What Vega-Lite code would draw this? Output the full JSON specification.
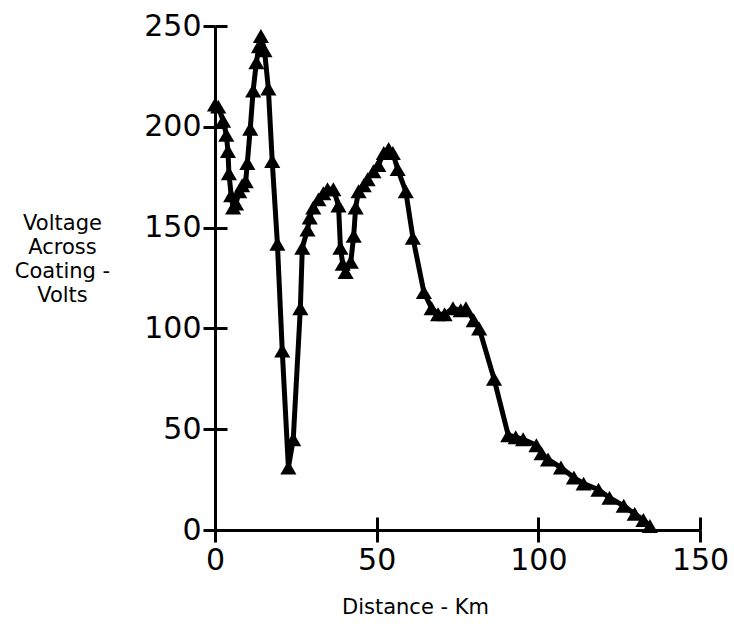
{
  "$schema": "https://vega.github.io/schema/vega-lite/v6.json",
  "width": 485,
  "height": 504,
  "autosize": {"type": "none"},
  "padding": {"left": 215, "top": 26, "right": 34, "bottom": 101},
  "background": "white",
  "config": {
    "view": {"stroke": null},
    "axis": {
      "grid": false,
      "labelFont": "DejaVu Sans",
      "titleFont": "DejaVu Sans",
      "labelColor": "black",
      "titleColor": "black",
      "domainColor": "black",
      "tickColor": "black",
      "domainWidth": 3,
      "tickWidth": 3,
      "labelFontSize": 30,
      "titleFontSize": 21,
      "titleFontWeight": "normal",
      "labelOverlap": false,
      "labelFlush": false
    }
  },
  "data": {
    "values": [
      {"km": 0, "volts": 211},
      {"km": 1, "volts": 210},
      {"km": 2.5, "volts": 203},
      {"km": 3.5, "volts": 196},
      {"km": 4, "volts": 188},
      {"km": 4.3, "volts": 177},
      {"km": 5, "volts": 166},
      {"km": 5.6, "volts": 160},
      {"km": 6.5, "volts": 162},
      {"km": 7.5, "volts": 168},
      {"km": 8.4, "volts": 171},
      {"km": 9.5, "volts": 173},
      {"km": 10, "volts": 182},
      {"km": 10.9, "volts": 199},
      {"km": 11.8, "volts": 218},
      {"km": 12.8, "volts": 232},
      {"km": 13.6, "volts": 240},
      {"km": 14.2, "volts": 245},
      {"km": 15.3, "volts": 238},
      {"km": 16.5, "volts": 219},
      {"km": 17.7, "volts": 183},
      {"km": 19.3, "volts": 142},
      {"km": 20.8, "volts": 89},
      {"km": 22.7, "volts": 31},
      {"km": 24.2, "volts": 45},
      {"km": 26.4, "volts": 110},
      {"km": 27, "volts": 140},
      {"km": 28.6, "volts": 149},
      {"km": 29.3, "volts": 155},
      {"km": 30.4, "volts": 160},
      {"km": 32, "volts": 164},
      {"km": 33.5, "volts": 167},
      {"km": 34.8, "volts": 169},
      {"km": 36.6, "volts": 169},
      {"km": 38.2, "volts": 161},
      {"km": 38.8, "volts": 140},
      {"km": 39.5, "volts": 132},
      {"km": 40.4, "volts": 128},
      {"km": 42, "volts": 133},
      {"km": 42.9, "volts": 146},
      {"km": 43.5, "volts": 160},
      {"km": 44.4, "volts": 168},
      {"km": 46, "volts": 171},
      {"km": 47.2, "volts": 174},
      {"km": 49, "volts": 178},
      {"km": 50.5, "volts": 181},
      {"km": 52.2, "volts": 187},
      {"km": 53.7, "volts": 189},
      {"km": 55, "volts": 187},
      {"km": 56.5, "volts": 179},
      {"km": 59, "volts": 168},
      {"km": 61.2, "volts": 145},
      {"km": 64.6, "volts": 118},
      {"km": 67, "volts": 110},
      {"km": 69, "volts": 107},
      {"km": 71, "volts": 107},
      {"km": 73.6, "volts": 110},
      {"km": 76, "volts": 109},
      {"km": 77.6, "volts": 110},
      {"km": 80, "volts": 104},
      {"km": 81.7, "volts": 100},
      {"km": 86.3, "volts": 75},
      {"km": 90.7, "volts": 47},
      {"km": 93, "volts": 46},
      {"km": 95.3, "volts": 45},
      {"km": 99.4, "volts": 42},
      {"km": 101, "volts": 38},
      {"km": 103, "volts": 35},
      {"km": 107, "volts": 31},
      {"km": 111, "volts": 26},
      {"km": 114, "volts": 23},
      {"km": 118.6, "volts": 20},
      {"km": 122, "volts": 16},
      {"km": 126.4, "volts": 12},
      {"km": 129.8, "volts": 8},
      {"km": 132.5, "volts": 5},
      {"km": 134.5, "volts": 2}
    ]
  },
  "layer": [
    {
      "mark": {"type": "line", "color": "black", "strokeWidth": 5},
      "encoding": {
        "x": {
          "field": "km",
          "type": "quantitative",
          "scale": {"domain": [0, 150], "nice": false},
          "axis": {
            "orient": "bottom",
            "values": [0, 50, 100, 150],
            "tickSize": 12,
            "labelPadding": 3,
            "title": "Distance - Km",
            "titleAlign": "center",
            "titleBaseline": "top",
            "titleX": 200,
            "titleY": 66
          }
        },
        "y": {
          "field": "volts",
          "type": "quantitative",
          "scale": {"domain": [0, 250], "nice": false},
          "axis": {
            "orient": "left",
            "values": [0, 50, 100, 150, 200, 250],
            "tickSize": 12,
            "labelPadding": 2,
            "title": ["Voltage", "Across", "Coating -", "Volts"],
            "titleAngle": 0,
            "titleAlign": "center",
            "titleBaseline": "top",
            "titleLineHeight": 24,
            "titleX": -153,
            "titleY": 186
          }
        }
      }
    },
    {
      "mark": {"type": "point", "shape": "triangle-up", "filled": true, "color": "black", "opacity": 1, "size": 260},
      "encoding": {
        "x": {
          "field": "km",
          "type": "quantitative",
          "scale": {"domain": [0, 150], "nice": false},
          "axis": {"orient": "bottom", "values": [0, 50, 100, 150], "tickSize": -13, "labels": false, "domain": false, "title": null}
        },
        "y": {
          "field": "volts",
          "type": "quantitative",
          "scale": {"domain": [0, 250], "nice": false},
          "axis": {"orient": "left", "values": [0, 50, 100, 150, 200, 250], "tickSize": -12, "labels": false, "domain": false, "title": null}
        }
      }
    }
  ],
  "resolve": {"axis": {"x": "independent", "y": "independent"}}
}
